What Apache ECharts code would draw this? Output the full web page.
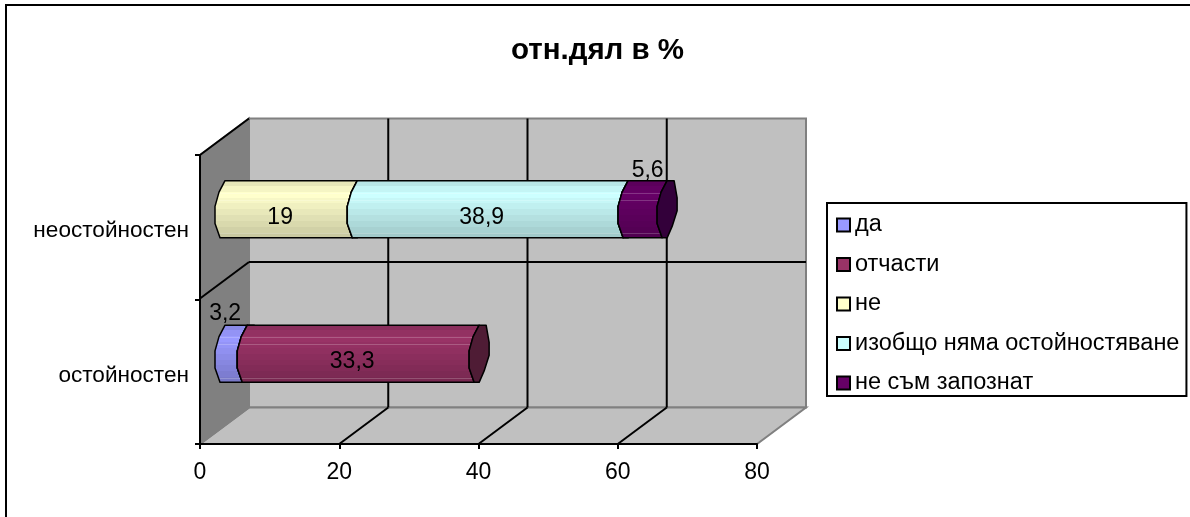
<!DOCTYPE html>
<html>
<head>
<meta charset="utf-8">
<title>отн.дял в %</title>
<script src="https://cdn.jsdelivr.net/npm/echarts@6/dist/echarts.min.js"></script>
<style>
html, body { margin: 0; padding: 0; background: #fff; }
#main { width: 1190px; height: 517px; }
</style>
</head>
<body>
<div id="main"></div>
<script>
// данни от графиката
const categories = ['остойностен', 'неостойностен'];
const xTicks = [0, 20, 40, 60, 80];
const seriesNames = ['да', 'отчасти', 'не', 'изобщо няма остойностяване', 'не съм запознат'];
const da = [3.2, null];
const otchasti = [33.3, null];
const ne = [null, 19];
const izobshto = [null, 38.9];
const nesam = [null, 5.6];
const seriesValues = [da, otchasti, ne, izobshto, nesam];

// цветове на стълбовете
const colors = ['#9999ff', '#993366', '#ffffcc', '#ccffff', '#660066'];
const capColors = ['#6b6bb3', '#4f1c35', '#b3b38f', '#8fb3b3', '#33003a'];

// дълбочина на 3D рамката, в пиксели
const depth = [49, -36.5];
const barDepth = [25, -18];
const barRatio = 0.198;
// къде стои всеки етикет спрямо средата на сегмента
const labelShift = [[-11, -40], [-11, 8], [-11, 8], [-11, 8], [0, -39]];
const fontName = '"Liberation Sans", Arial, sans-serif';

function shadeColor(hex, k, streak) {
    const c = echarts.color.parse(hex);
    const mix = function (v) {
        const dark = v * k;
        return Math.round(dark + (255 - dark) * streak);
    };
    return 'rgb(' + mix(c[0]) + ',' + mix(c[1]) + ',' + mix(c[2]) + ')';
}

// лента от сенки, светло горе и тъмно долу, с тънки светли черти
function bands(hex) {
    const levels = [0.9, 0.96, 1, 0.97, 0.94, 0.91, 0.88, 0.85, 0.82, 0.79];
    const streaks = [0.22, 0.34, 0.91];
    const stops = [];
    levels.forEach(function (k, i) {
        const from = i / levels.length;
        const to = (i + 1) / levels.length;
        const base = shadeColor(hex, k, 0);
        stops.push({ offset: from, color: base });
        streaks.forEach(function (s) {
            if (s >= from && s < to) {
                const light = shadeColor(hex, k, 0.2);
                stops.push({ offset: s, color: base });
                stops.push({ offset: s, color: light });
                stops.push({ offset: s + 0.018, color: light });
                stops.push({ offset: s + 0.018, color: base });
            }
        });
        stops.push({ offset: to, color: base });
    });
    return { type: 'linear', x: 0, y: 0, x2: 0, y2: 1, colorStops: stops };
}

// задна стена, под и лява стена
function renderFrame(params, api) {
    const r = params.coordSys;
    const d = depth;
    const left = r.x, right = r.x + r.width, top = r.y, bottom = r.y + r.height;
    const midY = top + r.height / 2 - 1;
    const children = [];
    const wall = function (pts, fill) {
        children.push({ type: 'polygon', shape: { points: pts }, style: { fill: fill, stroke: '#808080', lineWidth: 2 } });
    };
    const line = function (x1, y1, x2, y2) {
        children.push({ type: 'line', shape: { x1: x1, y1: y1, x2: x2, y2: y2 }, style: { stroke: '#000', lineWidth: 2 } });
    };
    wall([[left + d[0], top + d[1]], [right + d[0], top + d[1]], [right + d[0], bottom + d[1]], [left + d[0], bottom + d[1]]], '#c0c0c0');
    wall([[left, bottom], [right, bottom], [right + d[0], bottom + d[1]], [left + d[0], bottom + d[1]]], '#c0c0c0');
    wall([[left, top], [left + d[0], top + d[1]], [left + d[0], bottom + d[1]], [left, bottom]], '#808080');
    xTicks.slice(1, -1).forEach(function (v) {
        const x = api.coord([v, 0])[0];
        line(x + d[0], top + d[1], x + d[0], bottom + d[1]);
        line(x, bottom, x + d[0], bottom + d[1]);
    });
    line(left + d[0], midY + d[1], right + d[0], midY + d[1]);
    line(left, midY, left + d[0], midY + d[1]);
    line(left, top, left + d[0], top + d[1]);
    return { type: 'group', children: children };
}

// цилиндър: тяло, капак и етикет на един сегмент
function renderSegment(seriesIdx) {
    return function (params, api) {
        const cat = api.value(0);
        const values = seriesValues[seriesIdx];
        let start = 0;
        for (let i = 0; i < seriesIdx; i++) {
            start += seriesValues[i][cat] || 0;
        }
        const end = start + values[cat];
        const p0 = api.coord([start, cat]);
        const p1 = api.coord([end, cat]);
        const h = api.size([0, 1])[1] * barRatio;
        const x0 = p0[0] + barDepth[0];
        const x1 = p1[0] + barDepth[0];
        const cy = p0[1] + barDepth[1];

        const leftArc = function (x) {
            return [[x, cy - h], [x - 6, cy - h * 0.6], [x - 10, cy - h * 0.1], [x - 10, cy + h * 0.5], [x - 5, cy + h]];
        };
        const rightArc = [[x1, cy + h], [x1 + 5, cy + h * 0.6], [x1 + 10, cy + h * 0.05], [x1 + 10, cy - h * 0.4], [x1 + 7, cy - h]];
        const edge = { stroke: '#000', lineWidth: 1.5, lineJoin: 'round' };

        return {
            type: 'group',
            children: [
                {
                    type: 'polygon',
                    shape: { points: leftArc(x0).concat(leftArc(x1).reverse()) },
                    style: Object.assign({ fill: bands(colors[seriesIdx]) }, edge)
                },
                {
                    type: 'polygon',
                    shape: { points: leftArc(x1).concat(rightArc) },
                    style: Object.assign({ fill: capColors[seriesIdx] }, edge)
                },
                {
                    type: 'text',
                    z2: 10,
                    style: {
                        x: (x0 + x1) / 2 + labelShift[seriesIdx][0],
                        y: cy + labelShift[seriesIdx][1],
                        text: String(values[cat]).replace('.', ','),
                        font: '23px ' + fontName,
                        fill: '#000',
                        align: 'center',
                        verticalAlign: 'middle'
                    }
                }
            ]
        };
    };
}

const chart = echarts.init(document.getElementById('main'));

const series = [{
    type: 'custom',
    silent: true,
    clip: false,
    z: 1,
    data: [[0, 0]],
    renderItem: renderFrame
}];

seriesNames.forEach(function (name, idx) {
    const items = [];
    seriesValues[idx].forEach(function (v, cat) {
        if (v !== null) {
            items.push([cat, v]);
        }
    });
    series.push({
        type: 'custom',
        name: name,
        clip: false,
        z: 3 + idx,
        itemStyle: { color: colors[idx] },
        encode: { y: 0, x: 1 },
        data: items,
        renderItem: renderSegment(idx)
    });
});

chart.setOption({
    animation: false,
    backgroundColor: '#fff',
    textStyle: { fontFamily: fontName },
    title: {
        text: 'отн.дял в %',
        left: 592.5,
        top: 31,
        textAlign: 'center',
        textStyle: { fontFamily: fontName, fontSize: 29.5, fontWeight: 'bold', color: '#000' }
    },
    grid: { left: 200, top: 155, width: 557, height: 289 },
    xAxis: {
        type: 'value',
        min: 0,
        max: 80,
        interval: 20,
        z: 8,
        splitLine: { show: false },
        axisLine: { show: true, lineStyle: { color: '#000', width: 2 } },
        axisTick: { show: true, length: 5, lineStyle: { color: '#000', width: 2 } },
        axisLabel: { color: '#000', fontSize: 23, fontFamily: fontName, margin: 17 }
    },
    yAxis: {
        type: 'category',
        data: categories,
        z: 8,
        axisLine: { show: true, lineStyle: { color: '#000', width: 2 } },
        axisTick: { show: true, length: 5, lineStyle: { color: '#000', width: 2 } },
        axisLabel: {
            margin: 11,
            formatter: function (v) { return '{a|' + v + '}'; },
            rich: { a: { color: '#000', fontSize: 22.6, fontFamily: fontName, padding: [8, 0, 0, 0] } }
        }
    },
    legend: {
        orient: 'vertical',
        left: 827,
        top: 203,
        data: seriesNames,
        icon: 'rect',
        itemWidth: 13,
        itemHeight: 13,
        itemGap: 15.5,
        padding: [10, 7, 1, 9],
        borderColor: '#000',
        borderWidth: 2,
        selectedMode: false,
        itemStyle: { borderColor: '#000', borderWidth: 2 },
        textStyle: { color: '#000', fontSize: 23.5, fontFamily: fontName }
    },
    // рамка на диаграмата: само отляво и отгоре
    graphic: [{
        type: 'polyline',
        silent: true,
        shape: { points: [[6, 517], [6, 5], [1190, 5]] },
        style: { stroke: '#000', lineWidth: 2, fill: null }
    }],
    series: series
});
</script>
</body>
</html>
